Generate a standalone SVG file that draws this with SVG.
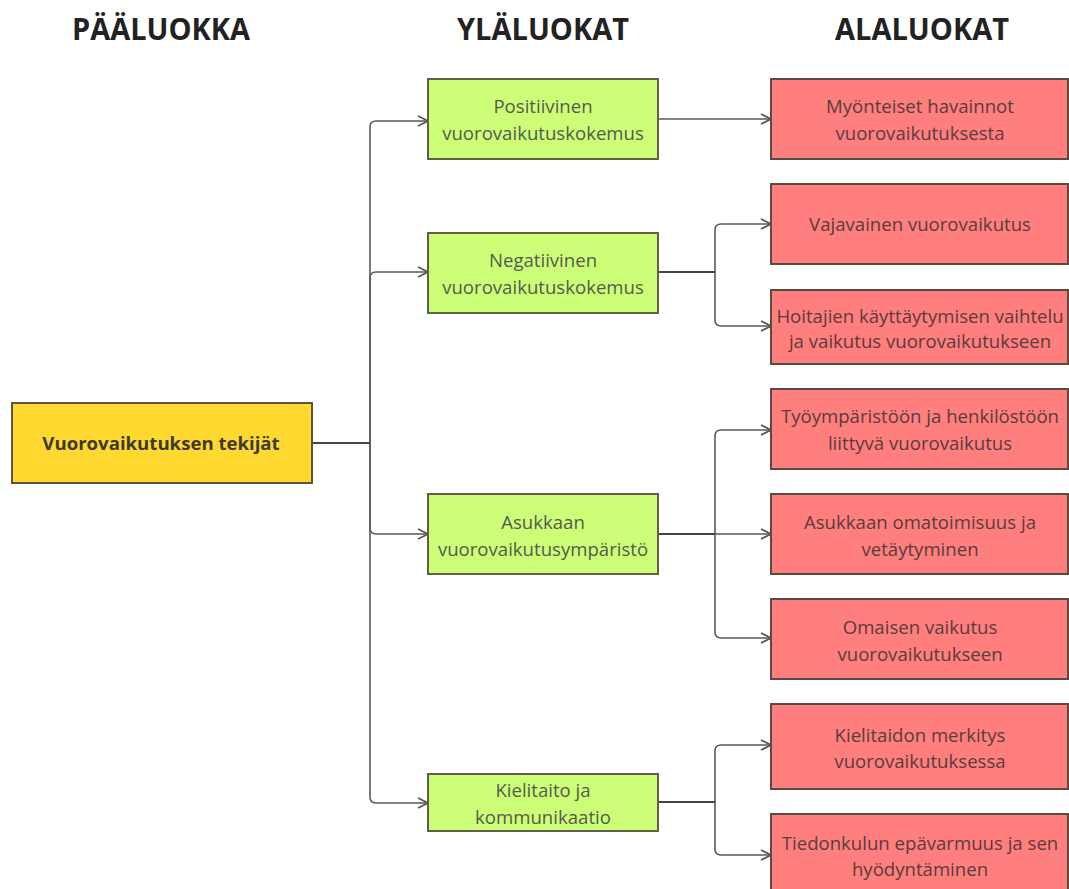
<svg xmlns="http://www.w3.org/2000/svg" width="1069" height="889" viewBox="0 0 1069 889">
<style>
.title{font-family:"Open Sans","Liberation Sans",sans-serif;font-weight:bold;font-size:30px;fill:#222;text-anchor:middle}
.t{font-family:"Open Sans","Liberation Sans",sans-serif;font-size:18.6px;text-anchor:middle}
.g rect{fill:#ccff77;stroke:#5f6048;stroke-width:2}
.g text{fill:#555b4c}
.r rect{fill:#ff7f7f;stroke:#5a4a44;stroke-width:2}
.r text{fill:#5a3c3c}
.c path{fill:none;stroke:#5a5a5a;stroke-width:1.6}
.c path.stem{stroke:#444;stroke-width:2.2}
</style>
<defs>
<marker id="ar" viewBox="0 0 12 12" refX="11" refY="6" markerWidth="12" markerHeight="12" markerUnits="userSpaceOnUse" orient="auto">
<path d="M1,1 L11,6 L1,11" fill="none" stroke="#555" stroke-width="1.6"/>
</marker>
</defs>
<rect width="1069" height="889" fill="#fff"/>
<text class="title" x="161" y="40" textLength="178" lengthAdjust="spacingAndGlyphs">PÄÄLUOKKA</text>
<text class="title" x="543" y="40" textLength="172" lengthAdjust="spacingAndGlyphs">YLÄLUOKAT</text>
<text class="title" x="922" y="40" textLength="174" lengthAdjust="spacingAndGlyphs">ALALUOKAT</text>

<g class="c" id="connectors">
<path d="M370,443 V127 Q370,121 376,121 H428" marker-end="url(#ar)"/>
<path d="M370,443 V278 Q370,272 376,272 H428" marker-end="url(#ar)"/>
<path d="M370,443 V528 Q370,534 376,534 H428" marker-end="url(#ar)"/>
<path d="M370,443 V797 Q370,803 376,803 H428" marker-end="url(#ar)"/>
<path class="stem" d="M312,443 H370"/>
<path d="M658,119 H771" marker-end="url(#ar)"/>
<path d="M715,272 V230 Q715,224 721,224 H771" marker-end="url(#ar)"/>
<path d="M715,272 V320 Q715,326 721,326 H771" marker-end="url(#ar)"/>
<path class="stem" d="M658,272 H715"/>
<path d="M715,534 V436 Q715,430 721,430 H771" marker-end="url(#ar)"/>
<path d="M715,534 H771" marker-end="url(#ar)"/>
<path d="M715,534 V632 Q715,638 721,638 H771" marker-end="url(#ar)"/>
<path class="stem" d="M658,534 H715"/>
<path d="M715,802 V751 Q715,745 721,745 H771" marker-end="url(#ar)"/>
<path d="M715,802 V849 Q715,855 721,855 H771" marker-end="url(#ar)"/>
<path class="stem" d="M658,802 H715"/>
</g>

<g id="root">
<rect x="12" y="403" width="300" height="80" fill="#ffd930" stroke="#5a5540" stroke-width="2"/>
<text class="t" x="161" y="450" style="font-weight:bold;font-size:18.6px;fill:#3d3a2c">Vuorovaikutuksen tekijät</text>
</g>

<g class="g" id="n-positiivinen">
<rect x="428" y="79" width="230" height="80"/>
<text class="t" x="543" y="113">Positiivinen</text>
<text class="t" x="543" y="140">vuorovaikutuskokemus</text>
</g>
<g class="g" id="n-negatiivinen">
<rect x="428" y="233" width="230" height="80"/>
<text class="t" x="543" y="267">Negatiivinen</text>
<text class="t" x="543" y="294">vuorovaikutuskokemus</text>
</g>
<g class="g" id="n-asukkaan">
<rect x="428" y="494" width="230" height="80"/>
<text class="t" x="543" y="529">Asukkaan</text>
<text class="t" x="543" y="556">vuorovaikutusympäristö</text>
</g>
<g class="g" id="n-kielitaito">
<rect x="428" y="774" width="230" height="57"/>
<text class="t" x="543" y="797">Kielitaito ja</text>
<text class="t" x="543" y="824">kommunikaatio</text>
</g>

<g class="r" id="n-myonteiset">
<rect x="771" y="79" width="297" height="80"/>
<text class="t" x="920" y="113">Myönteiset havainnot</text>
<text class="t" x="920" y="140">vuorovaikutuksesta</text>
</g>
<g class="r" id="n-vajavainen">
<rect x="771" y="184" width="297" height="80"/>
<text class="t" x="920" y="231">Vajavainen vuorovaikutus</text>
</g>
<g class="r" id="n-hoitajien">
<rect x="771" y="290" width="297" height="74"/>
<text class="t" x="920" y="323">Hoitajien käyttäytymisen vaihtelu</text>
<text class="t" x="920" y="348">ja vaikutus vuorovaikutukseen</text>
</g>
<g class="r" id="n-tyoymparisto">
<rect x="771" y="389" width="297" height="80"/>
<text class="t" x="920" y="423">Työympäristöön ja henkilöstöön</text>
<text class="t" x="920" y="450">liittyvä vuorovaikutus</text>
</g>
<g class="r" id="n-omatoimisuus">
<rect x="771" y="494" width="297" height="80"/>
<text class="t" x="920" y="529">Asukkaan omatoimisuus ja</text>
<text class="t" x="920" y="556">vetäytyminen</text>
</g>
<g class="r" id="n-omaisen">
<rect x="771" y="599" width="297" height="80"/>
<text class="t" x="920" y="634">Omaisen vaikutus</text>
<text class="t" x="920" y="661">vuorovaikutukseen</text>
</g>
<g class="r" id="n-kielitaidon">
<rect x="771" y="704" width="297" height="85"/>
<text class="t" x="920" y="742">Kielitaidon merkitys</text>
<text class="t" x="920" y="768">vuorovaikutuksessa</text>
</g>
<g class="r" id="n-tiedonkulun">
<rect x="771" y="814" width="297" height="85"/>
<text class="t" x="920" y="850">Tiedonkulun epävarmuus ja sen</text>
<text class="t" x="920" y="876">hyödyntäminen</text>
</g>
</svg>
